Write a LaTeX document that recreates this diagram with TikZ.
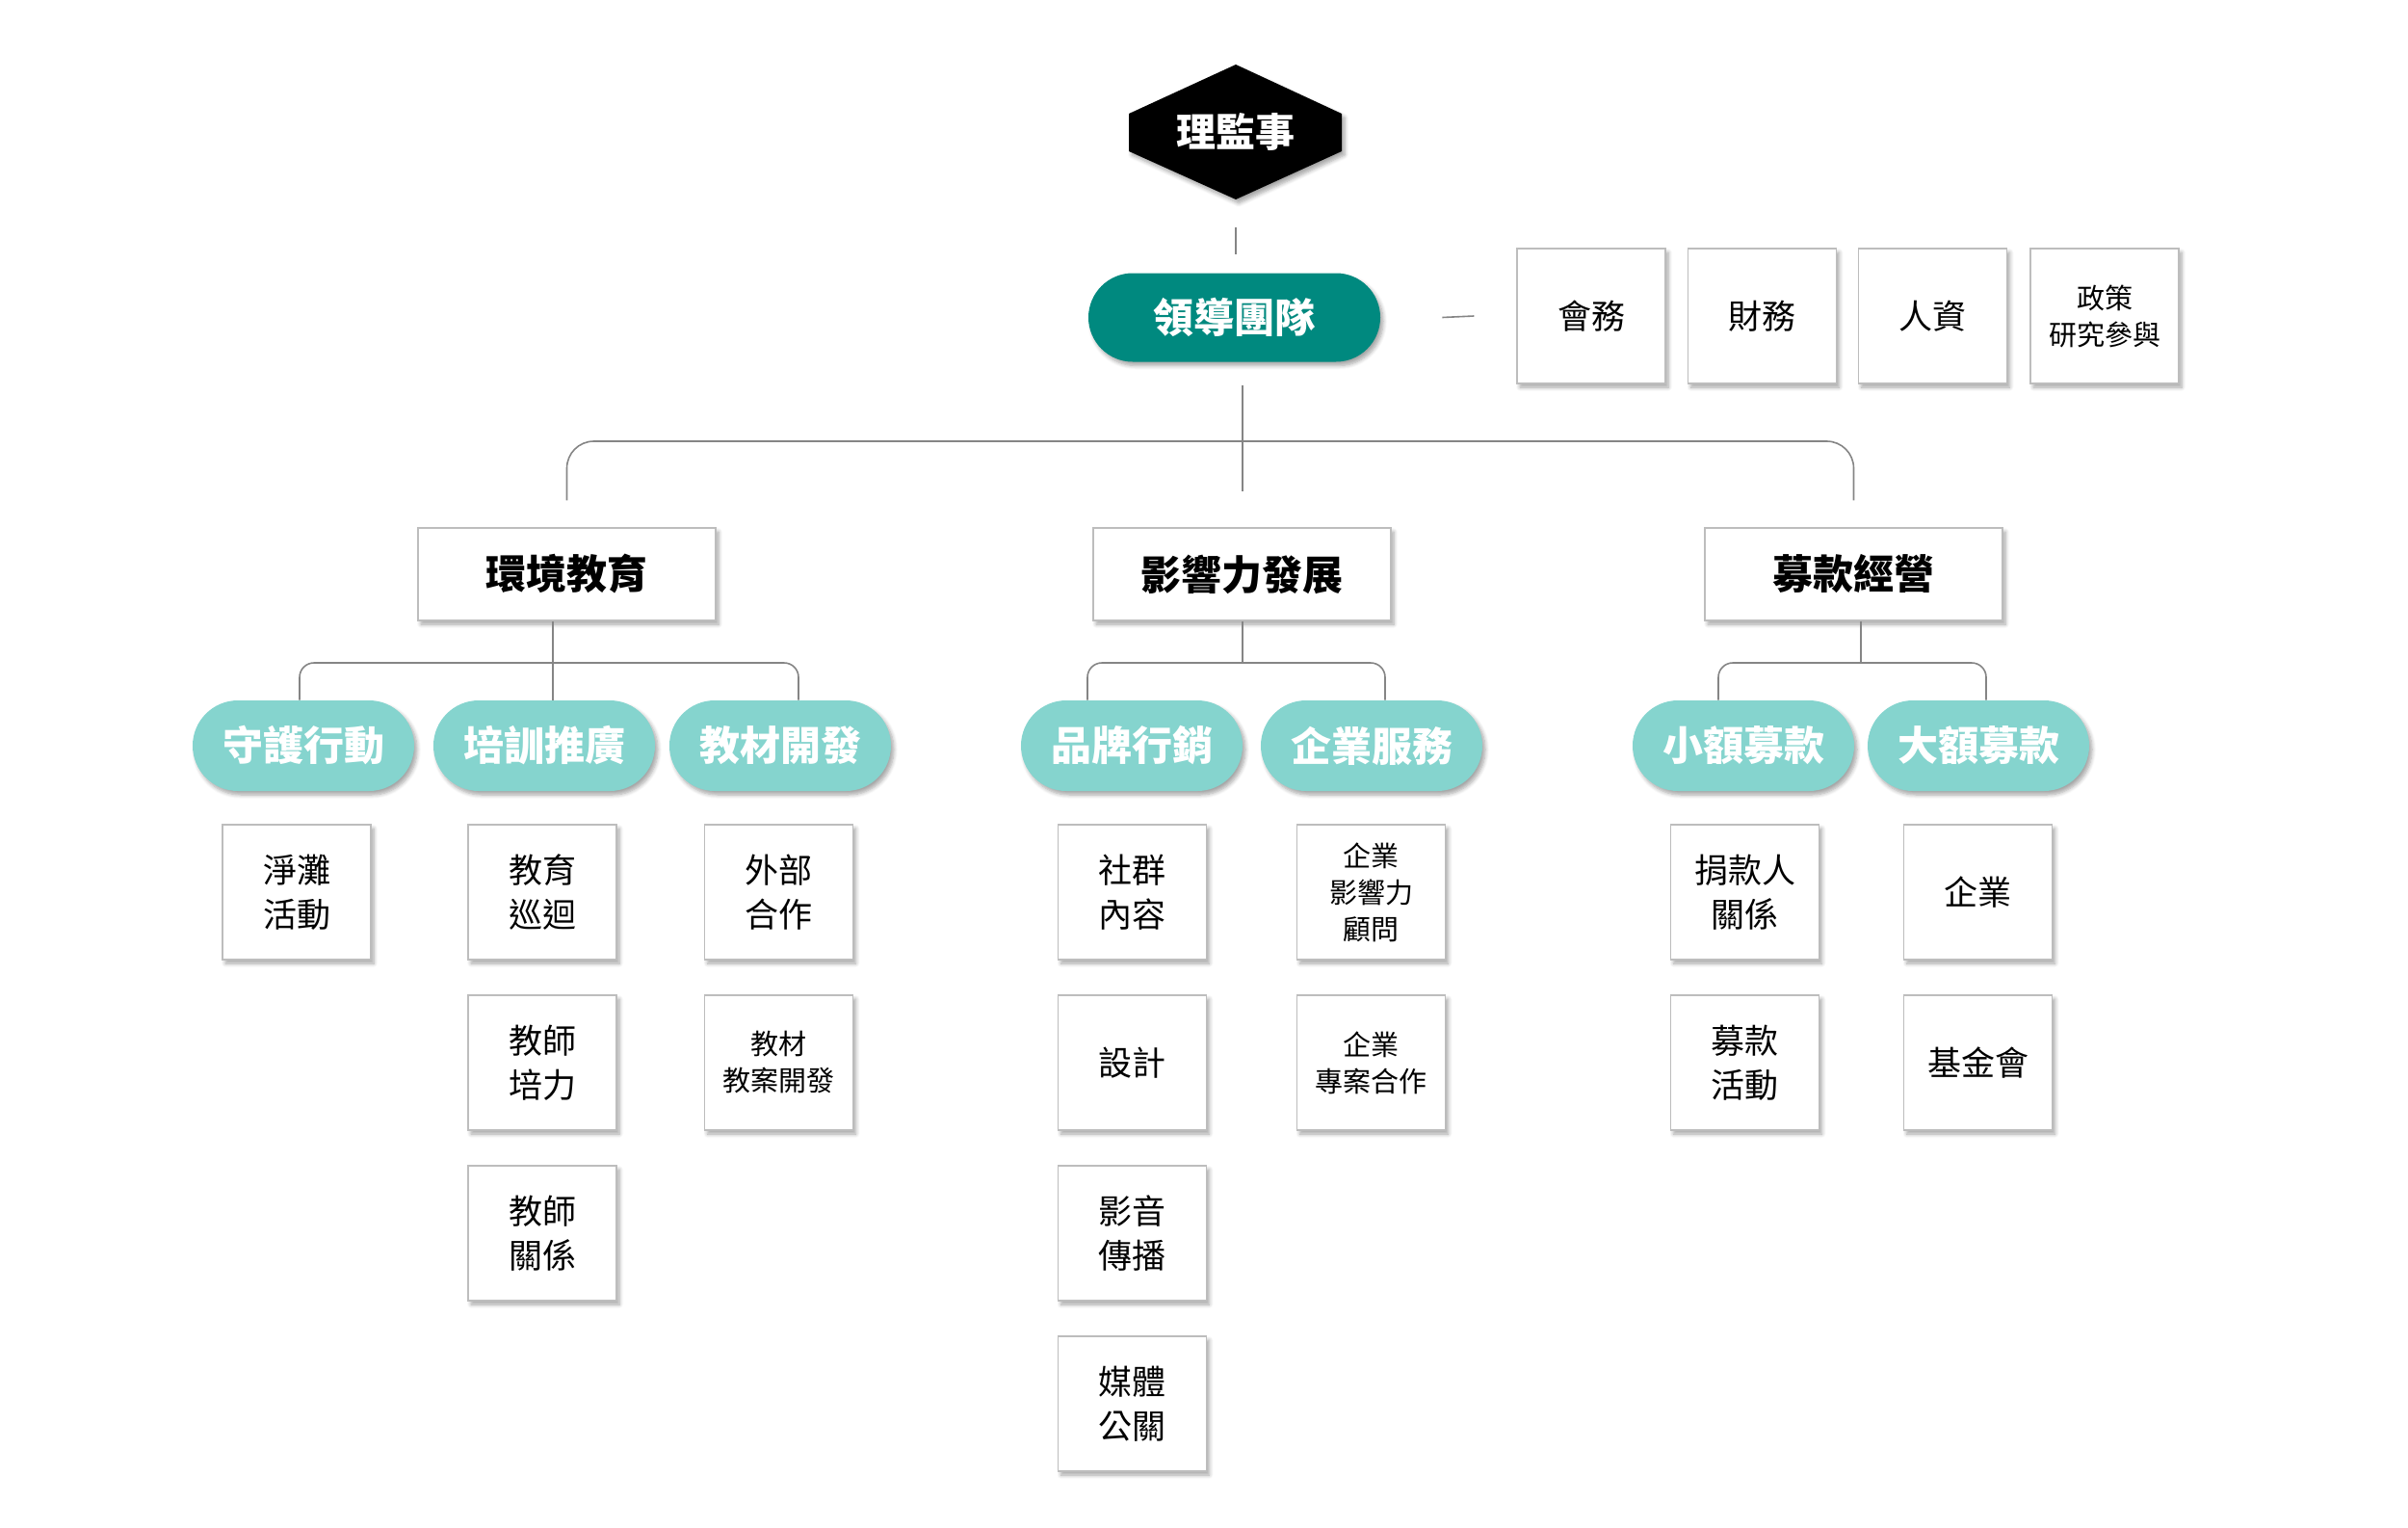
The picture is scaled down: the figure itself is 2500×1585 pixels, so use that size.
\documentclass[tikz,border=0pt]{standalone}
\usepackage{fontspec}
\newfontfamily\cjk{Noto Sans CJK TC}
\usetikzlibrary{shadows.blur,calc}
\definecolor{tealdark}{HTML}{00897F}
\definecolor{teallight}{HTML}{85D4CE}
\definecolor{boxgray}{HTML}{BDBDBD}
\definecolor{linegray}{HTML}{858585}
\tikzset{
  shade/.style={blur shadow={shadow xshift=1.5pt, shadow yshift=-2pt, shadow blur steps=6, shadow blur radius=2pt, shadow opacity=35}},
  conn/.style={draw=linegray, line width=0.8pt},
  leaf/.style={draw=boxgray, line width=0.6pt, fill=white, shade, minimum width=77pt, minimum height=70pt, inner sep=0pt, align=center, font=\cjk\fontsize{17.5}{23}\selectfont},
  leafsmall/.style={leaf, font=\cjk\fontsize{14.5}{19}\selectfont},
  head/.style={draw=boxgray, line width=0.6pt, fill=white, shade, minimum width=154.5pt, minimum height=48pt, inner sep=0pt, font=\cjk\bfseries\fontsize{21}{24}\selectfont},
  pill/.style={fill=teallight, shade, rounded corners=23.5pt, minimum width=115pt, minimum height=47pt, inner sep=0pt, text=white, font=\cjk\bfseries\fontsize{21}{24}\selectfont},
  leadpill/.style={fill=tealdark, shade, rounded corners=23pt, minimum width=151.5pt, minimum height=46pt, inner sep=0pt, text=white, font=\cjk\bfseries\fontsize{21}{24}\selectfont},
}
\begin{document}
\begin{tikzpicture}[x=0.5pt,y=-0.5pt]
\useasboundingbox (0,0) rectangle (2500,1585);
% board hexagon
\fill[black, shade] (1283,67) -- (1393,118) -- (1393,157) -- (1283,207) -- (1172,157) -- (1172,118) -- cycle;
\node[minimum width=111pt, minimum height=70pt, inner sep=0pt, text=white, font=\cjk\bfseries\fontsize{20.5}{24}\selectfont] (board) at (1283,137) {理監事};
% leadership
\node[leadpill] (lead) at (1281.5,329.5) {領導團隊};
\node[leaf] (a1) at (1652,328) {會務};
\node[leaf] (a2) at (1829.5,328) {財務};
\node[leaf] (a3) at (2006.5,328) {人資};
\node[leafsmall] (a4) at (2185,328) {政策\\研究參與};
% level 2
\node[head] (e) at (588.5,596) {環境教育};
\node[head] (i) at (1289.5,596) {影響力發展};
\node[head] (f) at (1924.5,596) {募款經營};
% pills
\node[pill] (e1) at (315,774) {守護行動};
\node[pill] (e2) at (565,774) {培訓推廣};
\node[pill] (e3) at (810,774) {教材開發};
\node[pill] (i1) at (1175,774) {品牌行銷};
\node[pill] (i2) at (1424,774) {企業服務};
\node[pill] (f1) at (1810,774) {小額募款};
\node[pill] (f2) at (2054,774) {大額募款};
% leaves
\node[leaf] (e1a) at (308,926) {淨灘\\活動};
\node[leaf] (e2a) at (563,926) {教育\\巡迴};
\node[leaf] (e2b) at (563,1103) {教師\\培力};
\node[leaf] (e2c) at (563,1280) {教師\\關係};
\node[leaf] (e3a) at (808.5,926) {外部\\合作};
\node[leafsmall] (e3b) at (808.5,1103) {教材\\教案開發};
\node[leaf] (i1a) at (1175.5,926) {社群\\內容};
\node[leaf] (i1b) at (1175.5,1103) {設計};
\node[leaf] (i1c) at (1175.5,1280) {影音\\傳播};
\node[leaf] (i1d) at (1175.5,1457) {媒體\\公關};
\node[leafsmall] (i2a) at (1423.5,926) {企業\\影響力\\顧問};
\node[leafsmall] (i2b) at (1423.5,1103) {企業\\專案合作};
\node[leaf] (f1a) at (1811.5,926) {捐款人\\關係};
\node[leaf] (f1b) at (1811.5,1103) {募款\\活動};
\node[leaf] (f2a) at (2053.5,926) {企業};
\node[leaf] (f2b) at (2053.5,1103) {基金會};
% connectors
\draw[conn] ($(board.south)+(0,29)$) -- ($(lead.north)+(1.5,-19)$);
\draw[conn] ($(lead.east)+(64,0)$) -- ($(a1.west)+(-44,0)$);
\coordinate (jt) at (1290,458);
\draw[conn] ($(lead.south)+(8.5,24)$) -- (jt) -- ++(0,52);
\draw[conn, rounded corners=14pt] ($(e.north)+(0,-28)$) |- (jt) -| ($(f.north)+(0,-28)$);
\coordinate (je) at (574,688);
\draw[conn] (e.south -| je) -- (je) -- (e2.north -| je);
\draw[conn, rounded corners=7.5pt] ([xshift=-2pt]e1.north) |- (je) -| ([xshift=9.5pt]e3.north);
\coordinate (ji) at (1290,688);
\draw[conn] (i.south -| ji) -- (ji);
\draw[conn, rounded corners=7.5pt] ([xshift=-23pt]i1.north) |- (ji) -| ([xshift=7pt]i2.north);
\coordinate (jf) at (1932,688);
\draw[conn] (f.south -| jf) -- (jf);
\draw[conn, rounded corners=7.5pt] ([xshift=-13pt]f1.north) |- (jf) -| ([xshift=4pt]f2.north);
\end{tikzpicture}
\end{document}
